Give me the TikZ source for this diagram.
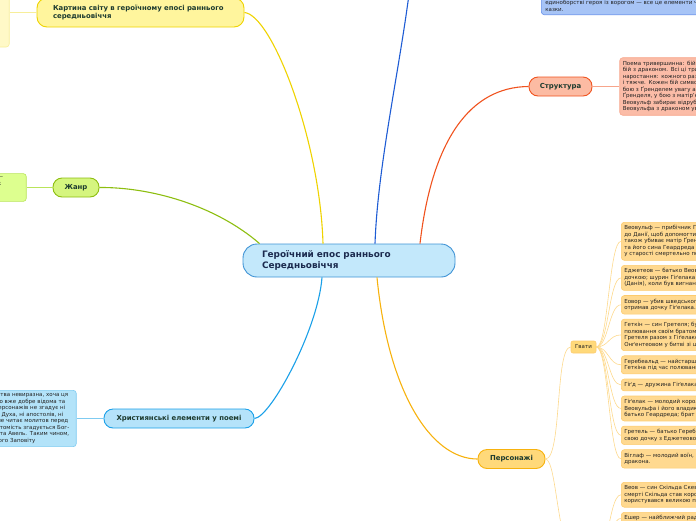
\documentclass[tikz,border=0pt]{standalone}
\usepackage{fontspec}
\setmainfont{DejaVu Sans}
\usetikzlibrary{positioning,calc}
\definecolor{centext}{HTML}{1B2A4E}
\definecolor{topictext}{HTML}{1D3B2F}
\definecolor{leaftext}{HTML}{222222}
\definecolor{cenfill}{HTML}{C3E8FB}
\definecolor{cenline}{HTML}{3F93D5}
\definecolor{ylwline}{HTML}{EFD300}
\definecolor{ylwfill}{HTML}{FFF59D}
\definecolor{ylwpale}{HTML}{F7EE9A}
\definecolor{ylwlight}{HTML}{FFF9C7}
\definecolor{grnline}{HTML}{8DBE10}
\definecolor{grnfill}{HTML}{D5F57F}
\definecolor{grnpale}{HTML}{B9E45A}
\definecolor{grnlight}{HTML}{DDFF8F}
\definecolor{ltbline}{HTML}{1AA0E8}
\definecolor{ltbfill}{HTML}{B5E3FA}
\definecolor{ltbpale}{HTML}{7FCBF1}
\definecolor{ltblight}{HTML}{B3E3F9}
\definecolor{dbline}{HTML}{1E5CD4}
\definecolor{dbpale}{HTML}{6590EA}
\definecolor{dblight}{HTML}{A7C4F6}
\definecolor{redline}{HTML}{F0531F}
\definecolor{redfill}{HTML}{FCBBA3}
\definecolor{redpale}{HTML}{F7A58B}
\definecolor{redlight}{HTML}{FBBCA7}
\definecolor{orgline}{HTML}{F7B20E}
\definecolor{orgfill}{HTML}{FFD97A}
\definecolor{orgpale}{HTML}{FDD98C}
\definecolor{orglight}{HTML}{FFD990}
\definecolor{orgedge}{HTML}{FDCB6E}

\begin{document}
\begin{tikzpicture}[
    x=1pt, y=-1pt,
    topic/.style={rounded corners=9pt, line width=0.9pt, minimum height=19pt, inner xsep=10pt, font=\fontsize{6.9}{7.8}\selectfont\bfseries, text=topictext},
    leaf/.style={rounded corners=3pt, line width=0.6pt, inner xsep=3pt, inner ysep=3.3pt, align=left, font=\fontsize{5.5}{6.5}\selectfont, text=leaftext},
    gleaf/.style={leaf, draw=orgedge, fill=orglight, text width=150pt, anchor=north west},
    branch/.style={line width=1.1pt},
    twig/.style={line width=0.6pt}
]
\useasboundingbox (0,0) rectangle (696,520);
\clip (0,0) rectangle (696,520);

% centre and main topics
\node[draw=cenline, fill=cenfill, rounded corners=14pt, line width=0.9pt, minimum height=33pt, text width=174pt, inner xsep=19pt, align=left, font=\fontsize{8.9}{11.2}\selectfont\bfseries, text=centext] (epos) at (349,260.5) {Героїчний епос раннього\\Середньовіччя};
\node[topic, draw=ylwline, fill=ylwfill, rounded corners=10pt, minimum height=29pt, text width=175pt, inner xsep=16pt, align=left] (svit) at (140.5,12.5) {Картина світу в героїчному епосі раннього\\середньовіччя};
\node[topic, draw=grnline, fill=grnfill, minimum width=46pt] (zhanr) at (76,187.5) {Жанр};
\node[topic, draw=ltbline, fill=ltbfill, minimum width=150pt] (khryst) at (179,418.5) {Християнські елементи у поемі};
\node[topic, draw=redline, fill=redfill, minimum width=63pt] (struktura) at (560.5,86.5) {Структура};
\node[topic, draw=orgline, fill=orgfill, minimum width=67pt] (personazhi) at (511.5,459) {Персонажі};
\coordinate (kazkatopic) at (412,-30);
\coordinate (danes) at (585,585);

% descriptions
\node[leaf, draw=ylwpale, fill=ylwlight, minimum width=80pt, minimum height=69pt, left=27pt of svit] (svitdesc) {};
\node[leaf, draw=grnpale, fill=grnlight, text width=100pt, align=right, left=26pt of zhanr] (zhanrdesc) {—\rule{20pt}{0pt}\\к\rule{22pt}{0pt}\\\mbox{}\\\mbox{}};
\node[leaf, draw=ltbpale, fill=ltblight, text width=150pt, align=right, left=27pt of khryst] (khrdesc) {християнства невиразна, хоча ця\rule{5pt}{0pt}\\давно вже добре відома та\rule{8pt}{0pt}\\персонажів не згадує ні\rule{8pt}{0pt}\\Святого Духа, ні апостолів, ні\rule{10pt}{0pt}\\ніхто не читає молитов перед\rule{5pt}{0pt}\\битвою, натомість згадується Бог-\rule{4pt}{0pt}\\Каїн та Авель. Таким чином,\rule{4pt}{0pt}\\Старого Заповіту\rule{38pt}{0pt}};
\node[leaf, draw=redpale, fill=redlight, text width=150pt, right=27pt of struktura] (strdesc) {Поема тривершинна: бій з\\бій з драконом. Всі ці три\\наростання: кожного разу\\і тяжче. Кожен бій символ\\бою з Ґренделем увагу ав\\Ґренделя, у бою з матір'ю\\Веовульф забирає відрубану\\Веовульфа з драконом ув};
\node[leaf, draw=dbpale, fill=dblight, text width=230pt, inner xsep=4pt, anchor=south west] (kazka) at (541,15) {\mbox{}\\единоборстві героя із ворогом — все це елементи чарівної\\казки.};

% characters
\node[draw=orgedge, fill=orgfill, rounded corners=2pt, line width=0.6pt, minimum width=25pt, minimum height=12pt, inner sep=1pt, font=\fontsize{5.5}{6.5}\selectfont, text=leaftext] (gvaty) at (583.5,347) {Гвати};
\node[gleaf] (beowulf) at (621,222) {Веовульф — прибічник Гіґелака\\до Данії, щоб допомогти Гротгару\\також убиває матір Ґренделя\\та його сина Геардреда\\у старості смертельно поранений};
\node[gleaf, below=4.5pt of beowulf.south west, anchor=north west] (edgetheow) {Еджетеов — батько Веовульфа\\дочкою; шурин Гіґелака\\(Данія), коли був вигнаний};
\node[gleaf, below=4.5pt of edgetheow.south west, anchor=north west] (eofor) {Еовор — убив шведського\\отримав дочку Гіґелака.};
\node[gleaf, below=4.5pt of eofor.south west, anchor=north west] (haethcyn) {Геткін — син Гретеля; був\\полювання своїм братом\\Гретеля разом з Гіґелаком\\Онґентеовом у битві зі шведами};
\node[gleaf, below=4.5pt of haethcyn.south west, anchor=north west] (herebeald) {Геребеальд — найстарший\\Геткіна під час полювання};
\node[gleaf, below=4.5pt of herebeald.south west, anchor=north west] (hygd) {Гіґд — дружина Гіґелака};
\node[gleaf, below=4.5pt of hygd.south west, anchor=north west] (hygelac) {Гіґелак — молодий король\\Веовульфа і його владика\\батько Геардреда; брат};
\node[gleaf, below=4.5pt of hygelac.south west, anchor=north west] (hrethel) {Гретель — батько Геребеальда\\свою дочку з Еджетеовом};
\node[gleaf, below=4.5pt of hrethel.south west, anchor=north west] (wiglaf) {Віглаф — молодий воїн,\\дракона.};
\node[gleaf] (beow) at (621,482) {Веов — син Скільда Скевінга\\смерті Скільда став королем\\користувався великою повагою};
\node[gleaf, below=4.5pt of beow.south west, anchor=north west] (aeschere) {Ешер — найближчий радник};

% branches
\draw[branch, ylwline] (svit.east) .. controls (272,15) and (320,140) .. ($(epos.north)+(-26,0)$);
\draw[branch, grnline] (zhanr.east) .. controls (150,187) and (215,205) .. ($(epos.north west)+(17,0)$);
\draw[branch, ltbline] (khryst.east) .. controls (270,418) and (318,330) .. ($(epos.south)+(-27,0)$);
\draw[branch, dbline] ($(epos.north)+(26,0)$) .. controls (378,160) and (402,60) .. (kazkatopic);
\draw[branch, redline] ($(epos.north)+(71,0)$) .. controls (432,140) and (470,87) .. (struktura.west);
\draw[branch, orgline] ($(epos.south)+(28,0)$) .. controls (388,390) and (430,459) .. (personazhi.west);

% twigs
\draw[twig, ylwpale] (svit.west) -- (svitdesc.east);
\draw[twig, grnpale] (zhanr.west) -- (zhanrdesc.east);
\draw[twig, ltbpale] (khryst.west) -- (khrdesc.east);
\draw[twig, redpale] (struktura.east) -- (strdesc.west);
\draw[twig, orgpale] (personazhi.east) .. controls (562,459) and (555,347) .. (gvaty.west);
\draw[twig, orgpale] (personazhi.east) .. controls (558,460) and (556,560) .. (danes);
\foreach \who in {beowulf,edgetheow,eofor,haethcyn,herebeald,hygd,hygelac,hrethel,wiglaf}
  \draw[twig, orgpale] (gvaty.east) .. controls +(12,0) and +(-12,0) .. (\who.west);
\foreach \who in {beow,aeschere}
  \draw[twig, orgpale] (danes) .. controls +(22,0) and +(-14,0) .. (\who.west);
\end{tikzpicture}
\end{document}
